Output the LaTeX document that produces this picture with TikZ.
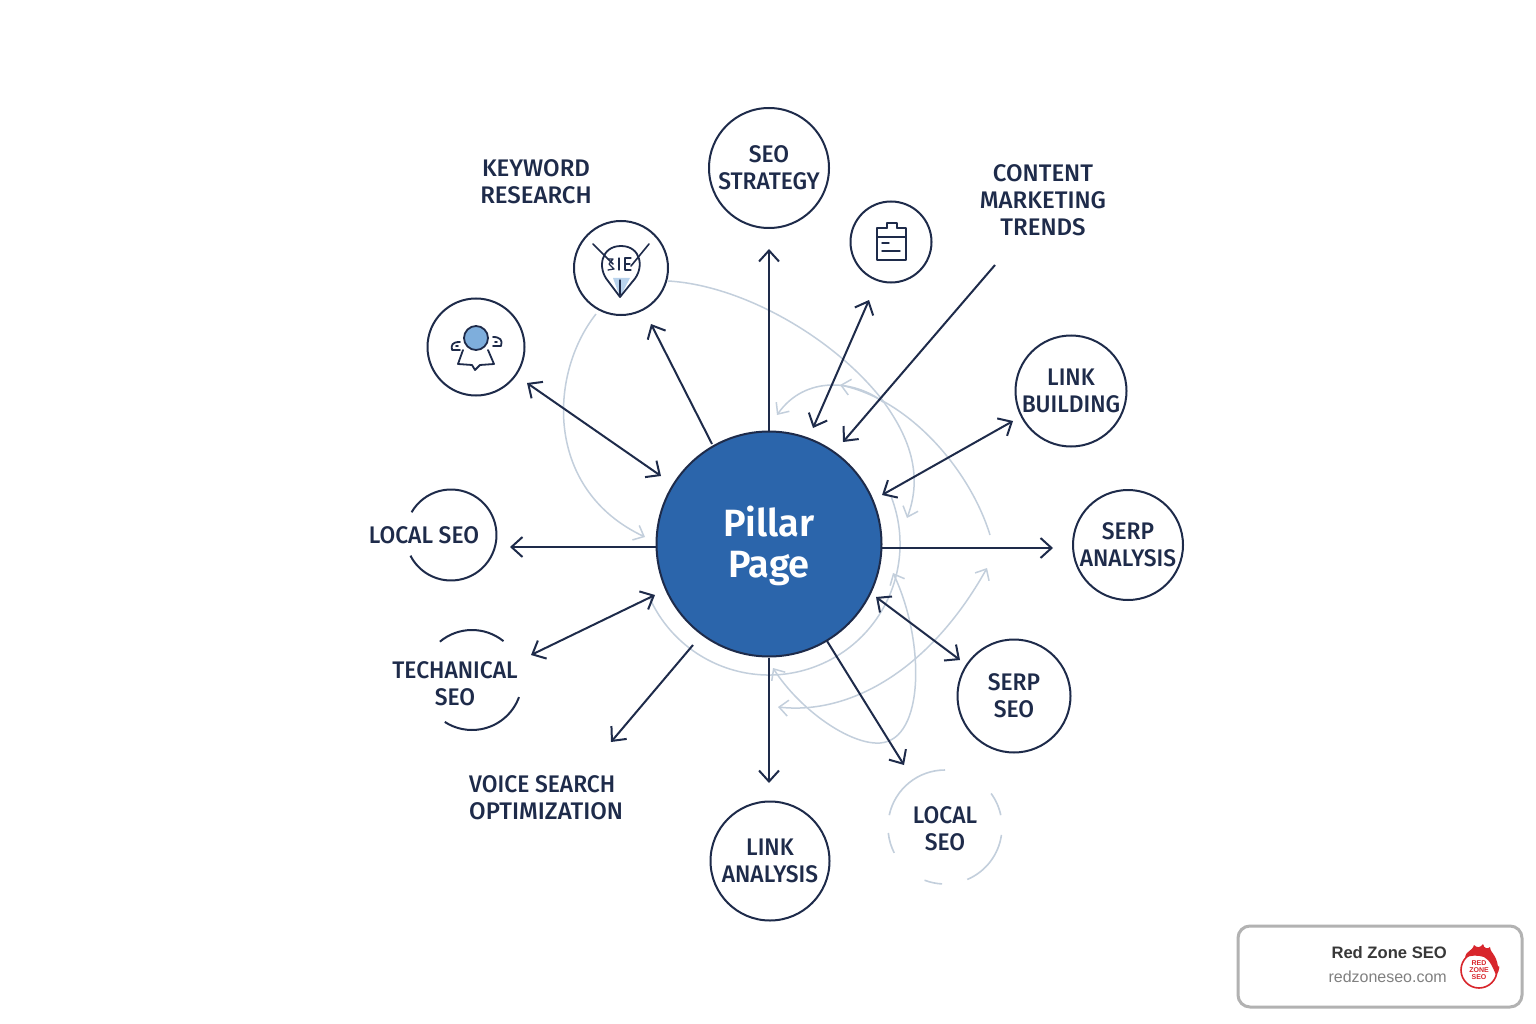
\documentclass[tikz,border=0pt]{standalone}
\usepackage{fontspec}
\usetikzlibrary{arrows.meta}
\setmainfont{Liberation Sans}
\newfontfamily\lab[FakeStretch=0.95]{Fira Sans Medium}
\newfontfamily\labwide[FakeStretch=1.0]{Fira Sans Medium}
\newfontfamily\pil{Fira Sans SemiBold}
\definecolor{ink}{HTML}{1E2B4A}
\definecolor{pale}{HTML}{C3CFDC}
\definecolor{core}{HTML}{2B65AB}
\definecolor{sky}{HTML}{7EAEDC}
\definecolor{logored}{HTML}{D8262C}
\tikzset{
  x=1pt,y=1pt,
  labeltext/.style={font=\lab\fontsize{24}{27}\selectfont,text=ink,align=center,inner sep=0pt},
  ring/.style={circle,draw=ink,line width=2pt,fill=white,inner sep=0pt,minimum size=#1,labeltext},
  spoke/.style={draw=ink,line width=2pt,-{Straight Barb[length=11pt,width=20pt,line width=2pt]}},
  bispoke/.style={draw=ink,line width=2pt,{Straight Barb[length=11pt,width=20pt,line width=2pt]}-{Straight Barb[length=11pt,width=20pt,line width=2pt]}},
  faint/.style={draw=pale,line width=1.5pt},
  faintend/.style={faint,-{Straight Barb[length=9pt,width=16pt,line width=1.5pt]}},
  faintboth/.style={faint,{Straight Barb[length=9pt,width=16pt,line width=1.5pt]}-{Straight Barb[length=9pt,width=16pt,line width=1.5pt]}},
  iconline/.style={draw=ink,line width=1.8pt,line join=round,line cap=round},
  arcline/.style={draw=ink,line width=2pt},
  palearc/.style={draw=pale,line width=1.6pt},
}
\begin{document}
\begin{tikzpicture}
\useasboundingbox (0,0) rectangle (1536,-1024);
\fill[white] (0,0) rectangle (1536,-1024);

% pale curves behind everything
\draw[faint] (769,-544) ++(21:131) arc[start angle=21,end angle=-156,radius=131];
\draw[faintend] (668,-281) .. controls (740,-285) and (830,-335) .. (880,-397) .. controls (905,-430) and (925,-470) .. (907,-518);
\draw[faintend] (990,-535) .. controls (970,-470) and (910,-400) .. (840,-385);
\draw[faintend] (883,-402) .. controls (855,-380) and (805,-375) .. (777,-415);
\draw[faintend] (596,-314) .. controls (548,-375) and (545,-490) .. (645,-537);
\draw[faintboth] (773,-668) .. controls (800,-710) and (850,-745) .. (880,-743) .. controls (925,-740) and (925,-640) .. (893,-573);
\draw[faintboth] (778,-707) .. controls (850,-715) and (930,-670) .. (987,-568);

% hub
\node[circle,draw=ink,line width=2pt,fill=core,minimum size=225pt,inner sep=0pt] (hub) at (769,-544) {};
\node[font=\pil\fontsize{38}{41.5}\selectfont,text=white,align=center,inner sep=0pt] (hubtext) at (769,-546) {Pillar\\Page};

% ringed nodes
\node[ring=120pt] (strategy) at (769,-168) {SEO\\STRATEGY};
\node[ring=81pt] (clip) at (891,-242) {};
\node[ring=94pt] (keyicon) at (621,-268) {};
\node[ring=97pt] (person) at (476,-347) {};
\node[ring=111pt] (linkb) at (1071,-391) {LINK\\BUILDING};
\node[ring=110pt] (serpa) at (1128,-545) {SERP\\ANALYSIS};
\node[ring=113pt] (serps) at (1014,-696) {SERP\\SEO};
\node[ring=119pt] (linka) at (770,-861) {LINK\\ANALYSIS};

% free labels
\node[labeltext,font=\labwide\fontsize{24}{27}\selectfont] (keyword) at (536,-182) {KEYWORD\\RESEARCH};
\node[labeltext,font=\labwide\fontsize{24}{27}\selectfont] (content) at (1043,-200) {CONTENT\\MARKETING\\TRENDS};
\node[labeltext] (localleft) at (424,-535) {LOCAL SEO};
\node[labeltext] (tech) at (455,-684) {TECHANICAL\\SEO};
\node[labeltext,align=left,anchor=west] (voice) at (469,-798) {VOICE SEARCH\\{\labwide OPTIMIZATION}};
\node[labeltext] (localright) at (945,-829) {LOCAL\\SEO};

% open rings
\coordinate (lc) at (451,-535);
\draw[arcline] (lc) ++(150:45.5) arc[start angle=150,end angle=-153,radius=45.5];
\coordinate (tc) at (472,-680);
\draw[arcline] (tc) ++(130:50) arc[start angle=130,end angle=51,radius=50];
\draw[arcline] (tc) ++(-20:50) arc[start angle=-20,end angle=-123,radius=50];
\coordinate (rc) at (945,-827);
\foreach \a/\b in {90/168,186/207,249/267,293/352,12/36}{
  \draw[palearc] (rc) ++(\a:57) arc[start angle=\a,end angle=\b,radius=57];
}

% spoke ends
\coordinate (s1a) at (769,-431); \coordinate (s1b) at (769,-249);
\coordinate (s2a) at (813,-428); \coordinate (s2b) at (869,-300);
\coordinate (s3a) at (995,-265); \coordinate (s3b) at (843,-442);
\coordinate (s4a) at (882,-495); \coordinate (s4b) at (1013,-421);
\coordinate (s5a) at (882,-548); \coordinate (s5b) at (1053,-548);
\coordinate (s6a) at (876,-597); \coordinate (s6b) at (960,-660);
\coordinate (s7a) at (827,-641); \coordinate (s7b) at (904,-765);
\coordinate (s8a) at (769,-658); \coordinate (s8b) at (769,-783);
\coordinate (s9a) at (693,-645); \coordinate (s9b) at (611,-742);
\coordinate (s10a) at (655,-595); \coordinate (s10b) at (531,-655);
\coordinate (s11a) at (657,-547); \coordinate (s11b) at (510,-547);
\coordinate (s12a) at (661,-476); \coordinate (s12b) at (527,-383);
\coordinate (s13a) at (712,-444); \coordinate (s13b) at (651,-324);

\draw[spoke] (s1a) -- (s1b);
\draw[bispoke] (s2a) -- (s2b);
\draw[spoke] (s3a) -- (s3b);
\draw[bispoke] (s4a) -- (s4b);
\draw[spoke] (s5a) -- (s5b);
\draw[bispoke] (s6a) -- (s6b);
\draw[spoke] (s7a) -- (s7b);
\draw[spoke] (s8a) -- (s8b);
\draw[spoke] (s9a) -- (s9b);
\draw[bispoke] (s10a) -- (s10b);
\draw[spoke] (s11a) -- (s11b);
\draw[bispoke] (s12a) -- (s12b);
\draw[spoke] (s13a) -- (s13b);

% clipboard icon
\draw[iconline] (887,-228) -- (877,-228) -- (877,-260) -- (906,-260) -- (906,-228) -- (897,-228);
\draw[iconline] (887,-228) -- (887,-223) -- (897,-223) -- (897,-228);
\draw[iconline,line width=1.4pt] (877,-237) -- (906,-237);
\draw[iconline,line width=1.4pt] (882,-243) -- (889,-243);
\draw[iconline,line width=1.4pt] (882,-251) -- (900,-251);

% person icon
\draw[iconline] (463,-350) -- (458,-364) -- (472,-365) -- (475,-370) -- (480,-365) -- (494,-364) -- (488,-350);
\filldraw[fill=sky,draw=ink,line width=1.8pt] (476,-338) circle[radius=12];
\draw[iconline] (460,-342) .. controls (452,-342) and (451,-345) .. (452,-350) -- (460,-350);
\draw[iconline] (458,-346) -- (456,-346);
\draw[iconline] (493,-337) .. controls (500,-337) and (503,-340) .. (501,-346) -- (493,-346);
\draw[iconline] (497,-342) -- (495,-342);

% keyword pin icon
\fill[fill=sky!55] (613,-278) -- (630,-278) -- (620,-297) -- cycle;
\draw[iconline] (608,-281) .. controls (597,-268) and (601,-246) .. (621,-246) .. controls (641,-246) and (645,-268) .. (633,-281) -- (620,-297) -- cycle;
\draw[iconline,line width=1.6pt] (593,-244) -- (613,-264);
\draw[iconline,line width=1.6pt] (649,-244) -- (631,-266);
\draw[iconline,line width=1.3pt] (608,-259) -- (613,-259) -- (609,-264) -- (614,-269) -- (608,-270);
\draw[iconline,line width=1.3pt] (619,-258) -- (619,-270);
\draw[iconline,line width=1.3pt] (631,-258) -- (625,-258) -- (625,-270) -- (631,-270);
\draw[iconline,line width=1.3pt] (625,-264) -- (630,-264);
\draw[iconline,line width=1.3pt] (620,-280) -- (620,-295);

% badge
\node[draw=black!30,line width=3pt,rounded corners=12pt,fill=white,minimum width=284pt,minimum height=81pt,inner sep=0pt] (badge) at (1380,-966.5) {};
\node[anchor=east,inner sep=0pt,font=\bfseries\fontsize{16.6}{19}\selectfont,text=black!78] (bname) at (1447,-953) {Red Zone SEO};
\node[anchor=east,inner sep=0pt,font=\fontsize{16}{18}\selectfont,text=black!50] (burl) at (1447,-977) {redzoneseo.com};

% logo
\draw[logored,line width=1.6pt] (1479,-970) circle[radius=18];
\fill[logored] (1465,-958) .. controls (1466,-950) and (1472,-952) .. (1474,-945) .. controls (1477,-948) and (1480,-948) .. (1483,-944) .. controls (1484,-949) and (1488,-949) .. (1490,-947) .. controls (1489,-951) and (1497,-955) .. (1498,-967) .. controls (1500,-962) and (1500,-972) .. (1496,-975) .. controls (1493,-968) and (1490,-960) .. (1484,-957) .. controls (1478,-955) and (1470,-955) .. (1465,-958) -- cycle;
\node[inner sep=0pt,font=\bfseries\fontsize{7}{7.2}\selectfont,text=logored,align=center] (logotext) at (1479,-970) {RED\\ZONE\\SEO};
\end{tikzpicture}
\end{document}
